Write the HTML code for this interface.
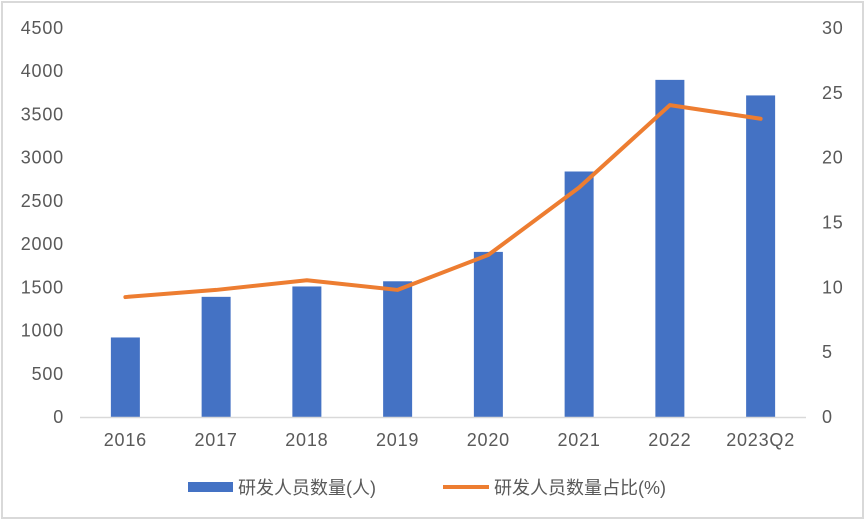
<!DOCTYPE html>
<html><head><meta charset="utf-8">
<style>
html,body{margin:0;padding:0;background:#fff;}
#wrap{width:866px;height:522px;position:relative;overflow:hidden;}
svg text{font-family:"Liberation Sans","Noto Sans CJK SC",sans-serif;fill:#595959;}
</style></head>
<body>
<div id="wrap">
<svg id="chart" width="866" height="522">
<rect x="2" y="2" width="861" height="516" fill="#fff" stroke="#d9d9d9" stroke-width="2"/>
</svg>
</div>
<script>
const categories=["2016","2017","2018","2019","2020","2021","2022","2023Q2"];
const staffCount=[920,1390,1510,1570,1910,2840,3900,3720];
const staffRatio=[9.25,9.8,10.55,9.8,12.5,17.7,24.05,23];
const leftTicks=[0,500,1000,1500,2000,2500,3000,3500,4000,4500];
const rightTicks=[0,5,10,15,20,25,30];

const svg=document.getElementById('chart');
const NS='http://www.w3.org/2000/svg';
const y0=417, yTop=28, x0=80, x1=806;
const yL=v=>y0-(v/4500)*(y0-yTop);
const yR=v=>y0-(v/30)*(y0-yTop);
const step=(x1-x0)/categories.length;
const xC=i=>x0+step*(i+0.5);
function mk(tag,attrs){const e=document.createElementNS(NS,tag);for(const k in attrs)e.setAttribute(k,attrs[k]);svg.appendChild(e);return e;}

leftTicks.forEach(t=>{
  const e=mk('text',{x:64,y:yL(t)+6,'text-anchor':'end','font-size':18,'letter-spacing':0.8});
  e.textContent=t;
  
  
});
rightTicks.forEach(t=>{
  const e=mk('text',{x:822,y:yR(t)+6,'text-anchor':'start','font-size':18,'letter-spacing':0.8});
  e.textContent=t;
  
  
});
categories.forEach((c,i)=>{
  const b=mk('rect',{x:xC(i)-14.5,y:yL(staffCount[i]),width:29,height:y0-yL(staffCount[i]),fill:'#4472c4'});
  
  
  const t=mk('text',{x:xC(i),y:446,'text-anchor':'middle','font-size':18,'letter-spacing':0.8});
  t.textContent=c;
  
  
});
const ax=mk('line',{x1:x0,y1:y0+0.5,x2:x1,y2:y0+0.5,stroke:'#d9d9d9','stroke-width':1.5});


const pts=staffRatio.map((v,i)=>xC(i)+','+yR(v)).join(' ');
const ln=mk('polyline',{points:pts,fill:'none',stroke:'#ed7d31','stroke-width':4,'stroke-linejoin':'round','stroke-linecap':'round'});



const lb=mk('rect',{x:188,y:482,width:45,height:10,fill:'#4472c4'});


const lt=mk('text',{x:238,y:494,'font-size':18});
lt.textContent='研发人员数量(人)';


const ll=mk('line',{x1:443,y1:487,x2:489,y2:487,stroke:'#ed7d31','stroke-width':4});


const lt2=mk('text',{x:494,y:494,'font-size':18});
lt2.textContent='研发人员数量占比(%)';


</script>
</body></html>
